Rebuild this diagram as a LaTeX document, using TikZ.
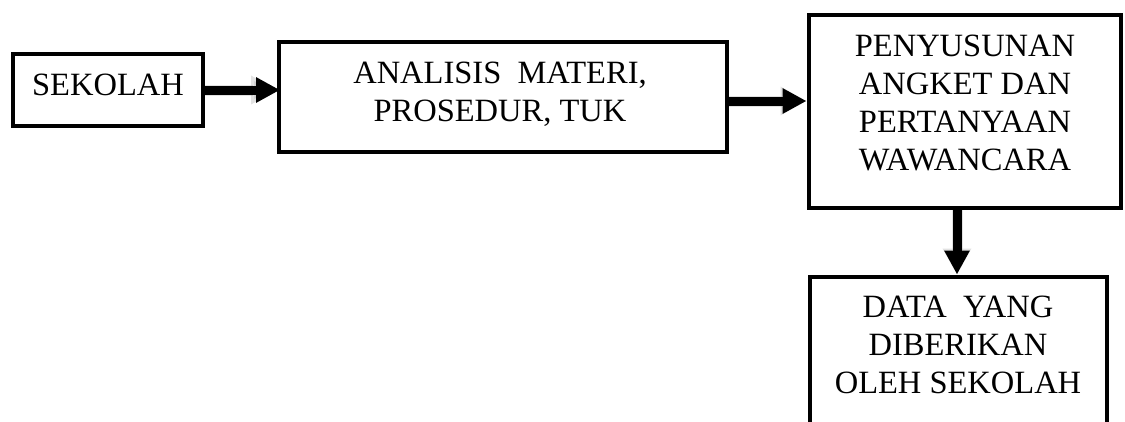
\documentclass[tikz,border=0pt]{standalone}
\usepackage{fontspec}
\setmainfont{Liberation Serif}
\usetikzlibrary{arrows.meta,calc}
\begin{document}
\begin{tikzpicture}[x=1pt,y=-1pt,
  box/.style={draw, line width=4pt, rectangle, inner sep=0pt},
  lbl/.style={font=\fontsize{32.5}{38}\selectfont, align=center, inner sep=0pt},
  bigarrow/.style={line width=9pt, -{Triangle[width=24pt,length=24pt]}},
  arrowshadow/.style={line width=11pt, draw=black!45, opacity=0.25, -{Triangle[width=27pt,length=26pt]}}]
\clip (0,0) rectangle (1125,421);
\fill[white] (0,0) rectangle (1125,421);
% boxes
\node[box, minimum width=190pt, minimum height=72pt] (sek) at (108,90) {};
\node[box, minimum width=448pt, minimum height=110pt] (ana) at (503,96.5) {};
\node[box, minimum width=312pt, minimum height=193pt] (pen) at (964.5,111.5) {};
\node[box, minimum width=297pt, minimum height=200pt] (dat) at (958,376.5) {};
% texts
\node[lbl] (sekt) at (sek.center) [yshift=5pt] {SEKOLAH};
\node[lbl] (anat) at (ana.center) [xshift=-3pt, yshift=2pt] {ANALISIS\ \ MATERI,\\PROSEDUR, TUK};
\node[lbl] (pent) at (pen.center) [xshift=0.5pt, yshift=8.5pt] {PENYUSUNAN\\ANGKET DAN\\PERTANYAAN\\WAWANCARA};
\node[lbl] (datt) at (dat.north) [yshift=-70pt] {DATA\ \ YANG\\DIBERIKAN\\OLEH SEKOLAH};
% arrow shadows
\begin{scope}[xshift=1.5pt, yshift=-2pt]
\draw[arrowshadow] (sek.east) -- (sek.east -| ana.west);
\draw[arrowshadow] ([yshift=-4.5pt]ana.east) -- ([yshift=-4.5pt]ana.east -| pen.west);
\draw[arrowshadow] ([xshift=-1pt]dat.north |- pen.south) -- ([xshift=-1pt]dat.north);
\end{scope}
% arrows
\draw[bigarrow, shorten >=-3pt] (sek.east) -- (sek.east -| ana.west);
\draw[bigarrow] ([yshift=-4.5pt]ana.east) -- ([yshift=-4.5pt]ana.east -| pen.west);
\draw[bigarrow] ([xshift=-1pt]dat.north |- pen.south) -- ([xshift=-1pt]dat.north);
\end{tikzpicture}
\end{document}
